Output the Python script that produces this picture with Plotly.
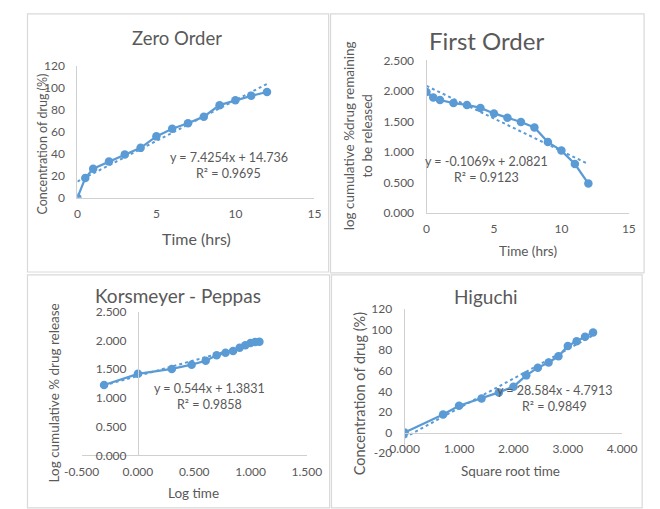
import plotly.graph_objects as go

# ---- release data -------------------------------------------------------
time_hrs = [0, 0.5, 1, 2, 3, 4, 5, 6, 7, 8, 9, 10, 11, 12]
conc_pct = [0, 18, 26.5, 33, 39.5, 45.5, 56, 63, 68, 74, 84.5, 89, 93, 96.5]

log_remaining = [1.98, 1.89, 1.85, 1.80, 1.77, 1.72, 1.63, 1.56, 1.49, 1.40, 1.16, 1.02, 0.80, 0.48]

log_time = [-0.301, 0.000, 0.301, 0.477, 0.602, 0.699, 0.778, 0.845, 0.903, 0.954, 1.000, 1.041, 1.079]
log_conc = [1.225, 1.420, 1.505, 1.580, 1.648, 1.742, 1.785, 1.818, 1.872, 1.917, 1.955, 1.972, 1.980]

sqrt_time = [0.000, 0.707, 1.000, 1.414, 1.732, 2.000, 2.236, 2.449, 2.646, 2.828, 3.000, 3.162, 3.317, 3.464]
higuchi_conc = [0, 17.5, 26, 33, 39, 44.5, 55.5, 63, 68, 74, 84, 88.5, 93, 97]

# linear fits (slope, intercept, R²)
fit_zero = (7.4254, 14.736, 0.9695)
fit_first = (-0.1069, 2.0821, 0.9123)
fit_kp = (0.544, 1.3831, 0.9858)
fit_hig = (28.584, -4.7913, 0.9849)

# tick values
ticks_time = [0, 5, 10, 15]
ticks_pct = [0, 20, 40, 60, 80, 100, 120]
ticks_log = [0, 0.5, 1.0, 1.5, 2.0, 2.5]
ticks_logt = [-0.5, 0, 0.5, 1.0, 1.5]
ticks_sqrt = [0, 1, 2, 3, 4]
ticks_hig = [-20, 0, 20, 40, 60, 80, 100, 120]

# ---- styling -------------------------------------------------------------
W, H = 660, 509
BLUE = "#5b9bd5"
TXT = "#595959"
AXIS = "#d0d0d0"
FRAME = "#d9d9d9"
FONT = "Lato, 'Open Sans', sans-serif"


def px(x):
    return x / W


def py(y):
    return 1 - y / H


def fmt_eq(slope, intercept):
    sign = "+" if intercept >= 0 else "-"
    return f"y = {slope:g}x {sign} {abs(intercept):g}"


def tick_text(vals, fmt):
    # plain hyphen for negatives, as the spreadsheet prints them
    return [format(v, fmt) for v in vals]


fig = go.Figure()


def add_panel(idx, xs, ys, fit):
    xa = "x" if idx == 1 else f"x{idx}"
    ya = "y" if idx == 1 else f"y{idx}"
    fig.add_trace(go.Scatter(
        x=xs, y=ys, xaxis=xa, yaxis=ya, mode="lines+markers",
        line=dict(color=BLUE, width=2.25),
        marker=dict(color=BLUE, size=8.5),
        showlegend=False, hoverinfo="skip"))
    slope, intercept, _ = fit
    x0, x1 = min(xs), max(xs)
    fig.add_trace(go.Scatter(
        x=[x0, x1], y=[slope * x0 + intercept, slope * x1 + intercept],
        xaxis=xa, yaxis=ya, mode="lines",
        line=dict(color=BLUE, width=2, dash="dot"),
        showlegend=False, hoverinfo="skip"))


add_panel(1, time_hrs, conc_pct, fit_zero)
add_panel(2, time_hrs, log_remaining, fit_first)
add_panel(3, log_time, log_conc, fit_kp)
add_panel(4, sqrt_time, higuchi_conc, fit_hig)

base_axis = dict(showgrid=False, zeroline=False, showline=True, linecolor=AXIS,
                 linewidth=1, ticks="outside", tickcolor="rgba(0,0,0,0)",
                 fixedrange=True, tickfont=dict(family=FONT, size=12, color=TXT))
x_axis = dict(base_axis, ticklen=5)
y_axis = dict(base_axis, ticklen=9)

# panel plot areas (pixel bounds)
dom1x, dom1y = (62.5, 312), (195.5, 60)
dom2x, dom2y = (430, 643), (211, 54)
dom3x, dom3y = (67, 304), (461, 313)
dom4x, dom4y = (407, 636), (458.75, 310)

rng3x = [-0.5, 1.5]
rng4y = [-20, 120]
# vertical axis of panel 3 crosses at x = 0, horizontal axis of panel 4 at y = 0
pos3 = px(dom3x[0] + (0 - rng3x[0]) / (rng3x[1] - rng3x[0]) * (dom3x[1] - dom3x[0]))
pos4 = py(dom4y[0] - (0 - rng4y[0]) / (rng4y[1] - rng4y[0]) * (dom4y[0] - dom4y[1]))

fig.update_layout(
    width=W, height=H, autosize=False,
    margin=dict(l=0, r=0, t=0, b=0),
    paper_bgcolor="white", plot_bgcolor="white",
    font=dict(family=FONT, color=TXT),
    xaxis=dict(x_axis, domain=[px(dom1x[0]), px(dom1x[1])], range=[0, 15],
               tickvals=ticks_time, ticktext=tick_text(ticks_time, "d"), anchor="y"),
    yaxis=dict(y_axis, domain=[py(dom1y[0]), py(dom1y[1])], range=[0, 120],
               tickvals=ticks_pct, ticktext=tick_text(ticks_pct, "d"), anchor="x"),
    xaxis2=dict(x_axis, domain=[px(dom2x[0]), px(dom2x[1])], range=[0, 15],
                tickvals=ticks_time, ticktext=tick_text(ticks_time, "d"), anchor="y2"),
    yaxis2=dict(y_axis, domain=[py(dom2y[0]), py(dom2y[1])], range=[0, 2.5],
                tickvals=ticks_log, ticktext=tick_text(ticks_log, ".3f"), anchor="x2"),
    xaxis3=dict(x_axis, domain=[px(dom3x[0]), px(dom3x[1])], range=rng3x,
                tickvals=ticks_logt, ticktext=tick_text(ticks_logt, ".3f"), anchor="y3"),
    yaxis3=dict(y_axis, domain=[py(dom3y[0]), py(dom3y[1])], range=[0, 2.5],
                tickvals=ticks_log, ticktext=tick_text(ticks_log, ".3f"),
                anchor="free", position=pos3),
    xaxis4=dict(x_axis, domain=[px(dom4x[0]), px(dom4x[1])], range=[0, 4],
                tickvals=ticks_sqrt, ticktext=tick_text(ticks_sqrt, ".3f"),
                anchor="free", position=pos4),
    yaxis4=dict(y_axis, domain=[py(dom4y[0]), py(dom4y[1])], range=rng4y,
                tickvals=ticks_hig, ticktext=tick_text(ticks_hig, "d"), anchor="x4"),
)

# chart frames
for (x0, y0, x1, y1) in [(10, 6, 327, 272), (329, 6, 659, 273),
                         (10, 275, 328, 515), (330, 275, 657, 515)]:
    fig.add_shape(type="rect", xref="paper", yref="paper",
                  x0=px(x0), x1=px(x1), y0=py(y1), y1=py(y0),
                  line=dict(color=FRAME, width=1.2), fillcolor="rgba(0,0,0,0)")


def label(text, x, y, size, angle=0):
    fig.add_annotation(text=text, x=px(x), y=py(y), xref="paper", yref="paper",
                       showarrow=False, textangle=angle, xanchor="center",
                       yanchor="middle", font=dict(family=FONT, size=size, color=TXT))


# titles
label("Zero Order", 167, 31, 18.5)
label("First Order", 493, 34, 24)
label("Korsmeyer - Peppas", 168, 296, 19)
label("Higuchi", 493, 297, 19)

# axis titles
label("Time (hrs)", 188, 237, 16)
label("Concentration of drug (%)", 26, 140, 12.5, -90)
label("Time (hrs)", 537, 250, 13.5)
label("log cumulative %drug remaining<br>to be released", 358, 132, 13.5, -90)
label("Log time", 185, 500, 13.5)
label("Log cumulative % drug release", 38, 397, 13.5, -90)
label("Square root time", 518, 477, 13.5)
label("Concentration of drug (%)", 359, 397, 14.5, -90)

# trendline equations
for fit, (cx, cy) in [(fit_zero, (222, 154)), (fit_first, (493, 158)),
                      (fit_kp, (202, 392)), (fit_hig, (565, 394))]:
    label(fmt_eq(fit[0], fit[1]), cx, cy, 12.5)
    label(f"R² = {fit[2]:.4f}", cx, cy + 16.5, 12.5)

fig.write_html("out.html")
